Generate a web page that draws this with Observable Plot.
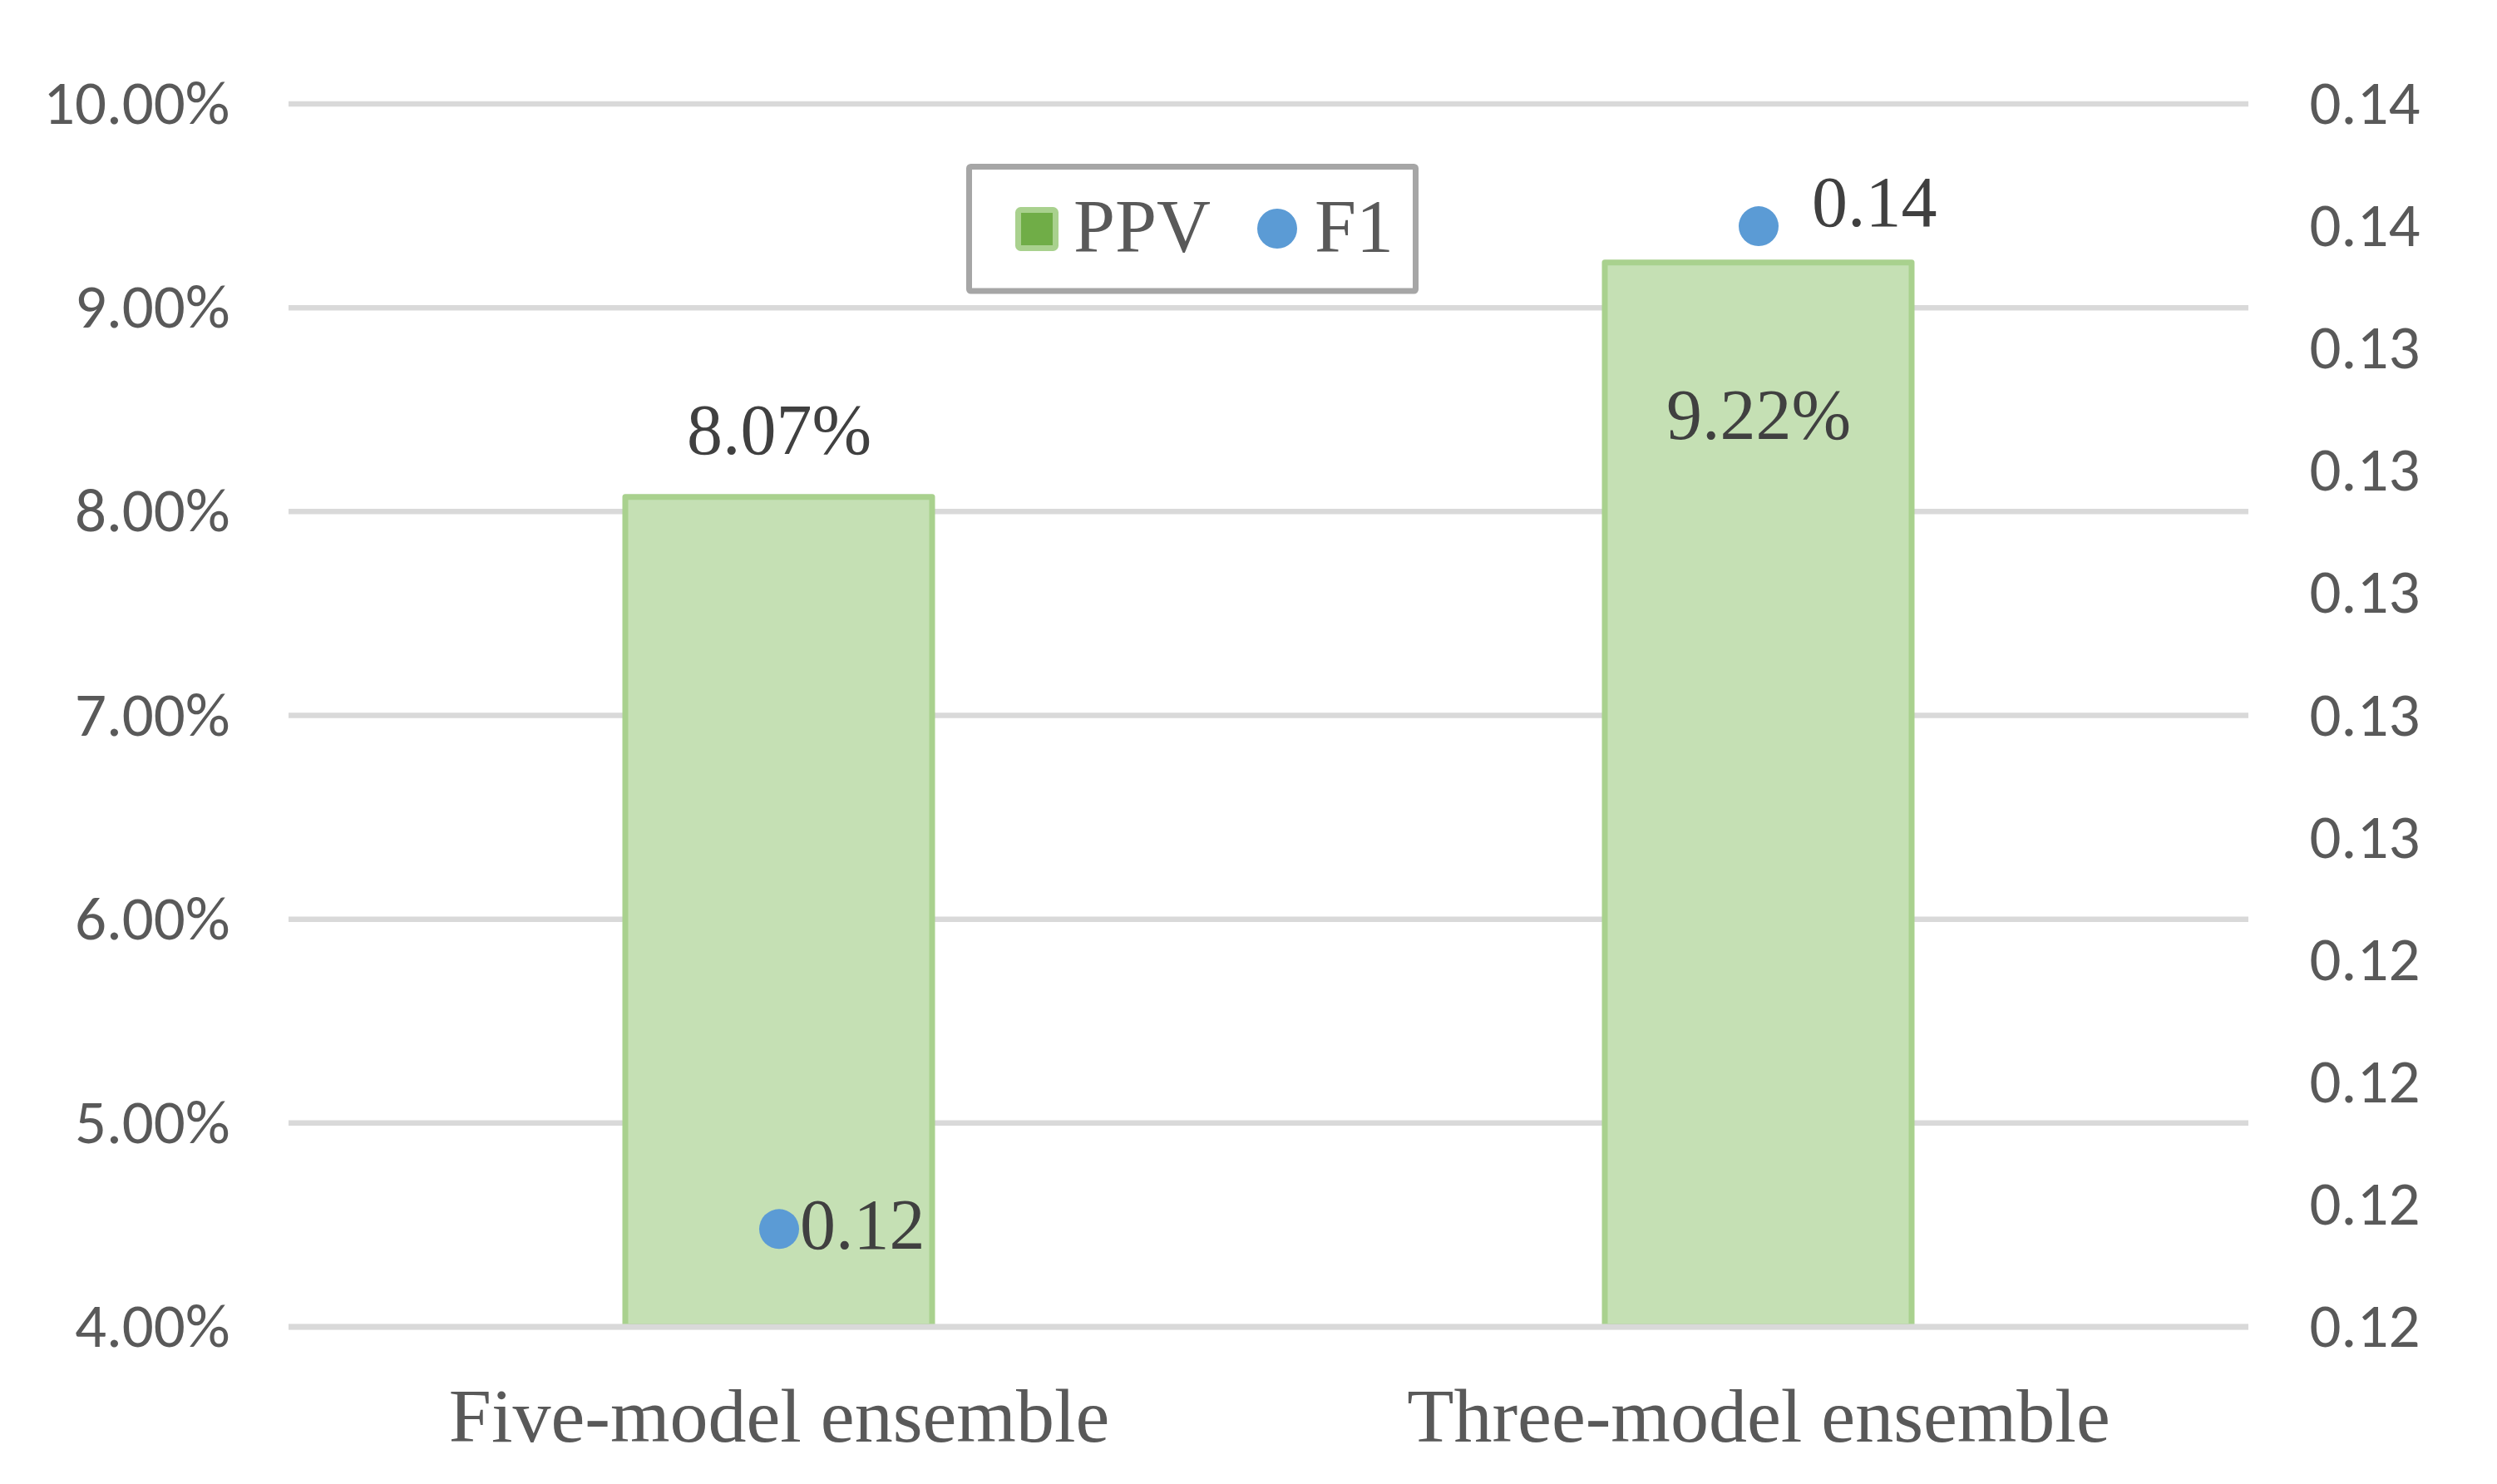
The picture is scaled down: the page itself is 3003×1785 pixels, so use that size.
<!DOCTYPE html>
<html>
<head>
<meta charset="utf-8">
<script src="https://cdn.jsdelivr.net/npm/d3@7"></script>
<script src="https://cdn.jsdelivr.net/npm/@observablehq/plot@0.6"></script>
<style>
  html, body { margin: 0; padding: 0; background: #fff; overflow: hidden; }
  #chart { position: relative; width: 3003px; height: 1785px; }
</style>
</head>
<body>
<div id="chart"></div>
<script>
const categories = ["Five-model ensemble", "Three-model ensemble"];
const ppv = [0.0807, 0.0922];
const f1 = [0.1196, 0.1360];
const leftTicks = [0.04, 0.05, 0.06, 0.07, 0.08, 0.09, 0.10];
const rightTicks = [0.118, 0.120, 0.122, 0.124, 0.126, 0.128, 0.130, 0.132, 0.134, 0.136, 0.138];
const rightTickLabels = ["0.12", "0.12", "0.12", "0.12", "0.13", "0.13", "0.13", "0.13", "0.13", "0.14", "0.14"];
const legendLabels = ["PPV", "F1"];

const yMin = leftTicks[0], yMax = leftTicks[leftTicks.length - 1];
const rMin = rightTicks[0], rMax = rightTicks[rightTicks.length - 1];
const toLeft = f => yMin + (f - rMin) / (rMax - rMin) * (yMax - yMin);

const data = categories.map((c, i) => ({cat: c, ppv: ppv[i], f1: f1[i], f1y: toLeft(f1[i])}));
const rightMapped = rightTicks.map(toLeft);
const rightLabelOf = new Map(rightMapped.map((v, i) => [v, rightTickLabels[i]]));

const SANS = "Carlito, Lato, 'Liberation Sans', sans-serif";
const SERIF = "'Liberation Serif', 'Times New Roman', serif";
const AXIS = "#595959";
const LABEL = "#404040";

const plot = Plot.plot({
  width: 3003,
  height: 1785,
  marginLeft: 347,
  marginRight: 299,
  marginTop: 124.5,
  marginBottom: 189.5,
  style: {background: "#fff", fontFamily: SANS, overflow: "visible"},
  x: {domain: categories, paddingInner: 0.687, paddingOuter: 0.3435, axis: null},
  y: {domain: [yMin, yMax], axis: null},
  marks: [
    Plot.gridY(leftTicks, {stroke: "#D9D9D9", strokeOpacity: 1, strokeWidth: 6.5}),
    Plot.barY(data, {x: "cat", y1: yMin, y2: "ppv", fill: "#C5E0B4", stroke: "#A9D18E", strokeWidth: 7, strokeLinejoin: "round"}),
    Plot.ruleY([yMin], {stroke: "#D9D9D9", strokeWidth: 7}),
    Plot.dot(data, {x: "cat", y: "f1y", r: 24, fill: "#5B9BD5", stroke: null}),
    // PPV data labels
    Plot.text(data, {filter: (d, i) => i === 0, x: "cat", y: "ppv", text: d => (d.ppv * 100).toFixed(2) + "%", dy: -80, fontFamily: SERIF, fontSize: 86, fill: LABEL}),
    Plot.text(data, {filter: (d, i) => i === 1, x: "cat", y: "ppv", text: d => (d.ppv * 100).toFixed(2) + "%", dy: 184, fontFamily: SERIF, fontSize: 86, fill: LABEL}),
    // F1 data labels
    Plot.text(data, {filter: (d, i) => i === 0, x: "cat", y: "f1y", text: d => d.f1.toFixed(2), textAnchor: "start", dx: 25, dy: -4, fontFamily: SERIF, fontSize: 86, fill: LABEL}),
    Plot.text(data, {filter: (d, i) => i === 1, x: "cat", y: "f1y", text: d => d.f1.toFixed(2), textAnchor: "start", dx: 64, dy: -28, fontFamily: SERIF, fontSize: 86, fill: LABEL}),
    // axes
    Plot.axisY(leftTicks, {anchor: "left", label: null, tickSize: 0, tickPadding: 71, tickFormat: d3.format(".2%"), fontSize: 75, fontFamily: SANS, fill: AXIS}),
    Plot.axisY(rightMapped, {anchor: "right", label: null, tickSize: 0, tickPadding: 73, tickFormat: d => rightLabelOf.get(d), fontSize: 75, fontFamily: SANS, fill: AXIS}),
    Plot.axisX({anchor: "bottom", label: null, tickSize: 0, tickPadding: 73, fontSize: 92, fontFamily: SERIF, fill: AXIS})
  ]
});

document.getElementById("chart").appendChild(plot);

// Legend (inside plot area, top centre)
const svg = d3.select(plot);
const lg = svg.append("g").attr("class", "legend").attr("text-anchor", "start");
lg.append("rect").attr("x", 1165.5).attr("y", 200.5).attr("width", 537).attr("height", 149.5)
  .attr("fill", "#fff").attr("stroke", "#A6A6A6").attr("stroke-width", 7).attr("rx", 2);
lg.append("rect").attr("x", 1224.5).attr("y", 252.5).attr("width", 45).attr("height", 46)
  .attr("fill", "#70AD47").attr("stroke", "#A9D18E").attr("stroke-width", 7).attr("rx", 3);
lg.append("text").attr("x", 1291).attr("y", 303).attr("text-anchor", "start").text(legendLabels[0])
  .attr("font-family", SERIF).attr("font-size", 90).attr("fill", AXIS);
lg.append("circle").attr("cx", 1536).attr("cy", 275).attr("r", 24).attr("fill", "#5B9BD5");
lg.append("text").attr("x", 1581).attr("y", 303).attr("text-anchor", "start").text(legendLabels[1])
  .attr("font-family", SERIF).attr("font-size", 90).attr("fill", AXIS);
</script>
</body>
</html>
